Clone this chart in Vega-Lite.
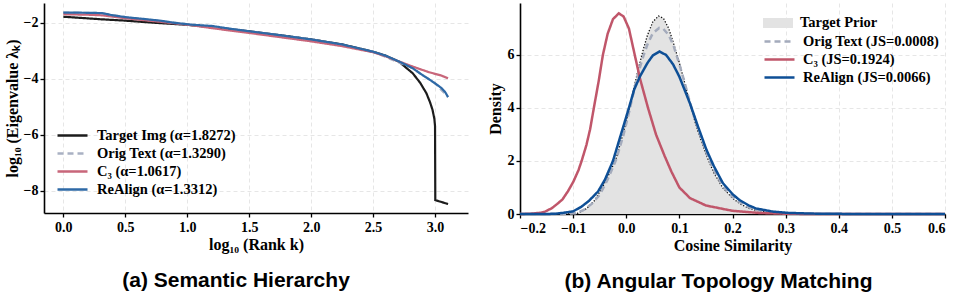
{
  "$schema": "https://vega.github.io/schema/vega-lite/v6.json",
  "padding": {"left": 4, "top": 3, "right": 0, "bottom": 0},
  "background": "white",
  "spacing": 19,
  "resolve": {
    "scale": {"color": "independent", "strokeDash": "independent", "fill": "independent", "stroke": "independent"},
    "legend": {"color": "independent", "strokeDash": "independent", "fill": "independent", "stroke": "independent"}
  },
  "config": {
    "view": {"stroke": null},
    "axis": {
      "domainColor": "black", "domainWidth": 1.6, "tickColor": "black", "tickWidth": 1.3, "tickSize": 4,
      "labelFont": "Liberation Serif", "labelFontWeight": "bold", "labelFontSize": 14, "labelColor": "black", "labelPadding": 2,
      "titleFont": "Liberation Serif", "titleFontWeight": "bold", "titleFontSize": 16, "titleColor": "black",
      "gridColor": "#e0e0e0", "gridDash": [4, 3], "gridWidth": 0.8
    },
    "legend": {
      "labelFont": "Liberation Serif", "labelFontWeight": "bold", "labelFontSize": 14.5, "labelColor": "black",
      "symbolSize": 400, "symbolStrokeWidth": 2.5, "labelOffset": 12, "rowPadding": 0
    },
    "title": {"font": "Liberation Sans", "fontSize": 21, "fontWeight": "bold", "color": "black", "anchor": "middle"}
  },
  "datasets": {
    "left": [
      {"x": 0, "y": -1.79, "s": "Target Img (α=1.8272)"},
      {"x": 0.1, "y": -1.82, "s": "Target Img (α=1.8272)"},
      {"x": 0.2, "y": -1.85, "s": "Target Img (α=1.8272)"},
      {"x": 0.3, "y": -1.88, "s": "Target Img (α=1.8272)"},
      {"x": 0.5, "y": -1.93, "s": "Target Img (α=1.8272)"},
      {"x": 0.75, "y": -2.01, "s": "Target Img (α=1.8272)"},
      {"x": 1.0, "y": -2.08, "s": "Target Img (α=1.8272)"},
      {"x": 1.25, "y": -2.19, "s": "Target Img (α=1.8272)"},
      {"x": 1.5, "y": -2.31, "s": "Target Img (α=1.8272)"},
      {"x": 1.75, "y": -2.45, "s": "Target Img (α=1.8272)"},
      {"x": 2.0, "y": -2.6, "s": "Target Img (α=1.8272)"},
      {"x": 2.25, "y": -2.78, "s": "Target Img (α=1.8272)"},
      {"x": 2.5, "y": -3.04, "s": "Target Img (α=1.8272)"},
      {"x": 2.6, "y": -3.18, "s": "Target Img (α=1.8272)"},
      {"x": 2.71, "y": -3.4, "s": "Target Img (α=1.8272)"},
      {"x": 2.82, "y": -3.81, "s": "Target Img (α=1.8272)"},
      {"x": 2.88, "y": -4.15, "s": "Target Img (α=1.8272)"},
      {"x": 2.93, "y": -4.52, "s": "Target Img (α=1.8272)"},
      {"x": 2.96, "y": -4.85, "s": "Target Img (α=1.8272)"},
      {"x": 2.98, "y": -5.12, "s": "Target Img (α=1.8272)"},
      {"x": 2.995, "y": -5.45, "s": "Target Img (α=1.8272)"},
      {"x": 3.0, "y": -5.7, "s": "Target Img (α=1.8272)"},
      {"x": 3.002, "y": -8.34, "s": "Target Img (α=1.8272)"},
      {"x": 3.105, "y": -8.48, "s": "Target Img (α=1.8272)"},
      {"x": 0, "y": -1.64, "s": "Orig Text (α=1.3290)"},
      {"x": 0.31, "y": -1.66, "s": "Orig Text (α=1.3290)"},
      {"x": 0.51, "y": -1.81, "s": "Orig Text (α=1.3290)"},
      {"x": 1.05, "y": -2.08, "s": "Orig Text (α=1.3290)"},
      {"x": 1.5, "y": -2.31, "s": "Orig Text (α=1.3290)"},
      {"x": 2.0, "y": -2.6, "s": "Orig Text (α=1.3290)"},
      {"x": 2.5, "y": -3.04, "s": "Orig Text (α=1.3290)"},
      {"x": 2.82, "y": -3.63, "s": "Orig Text (α=1.3290)"},
      {"x": 3.0, "y": -4.17, "s": "Orig Text (α=1.3290)"},
      {"x": 3.105, "y": -4.66, "s": "Orig Text (α=1.3290)"},
      {"x": 0, "y": -1.7, "s": "C₃ (α=1.0617)"},
      {"x": 0.1, "y": -1.71, "s": "C₃ (α=1.0617)"},
      {"x": 0.2, "y": -1.72, "s": "C₃ (α=1.0617)"},
      {"x": 0.31, "y": -1.74, "s": "C₃ (α=1.0617)"},
      {"x": 0.51, "y": -1.85, "s": "C₃ (α=1.0617)"},
      {"x": 0.78, "y": -1.97, "s": "C₃ (α=1.0617)"},
      {"x": 1.05, "y": -2.1, "s": "C₃ (α=1.0617)"},
      {"x": 1.2, "y": -2.2, "s": "C₃ (α=1.0617)"},
      {"x": 1.5, "y": -2.37, "s": "C₃ (α=1.0617)"},
      {"x": 1.75, "y": -2.52, "s": "C₃ (α=1.0617)"},
      {"x": 2.0, "y": -2.67, "s": "C₃ (α=1.0617)"},
      {"x": 2.25, "y": -2.84, "s": "C₃ (α=1.0617)"},
      {"x": 2.5, "y": -3.06, "s": "C₃ (α=1.0617)"},
      {"x": 2.6, "y": -3.2, "s": "C₃ (α=1.0617)"},
      {"x": 2.71, "y": -3.39, "s": "C₃ (α=1.0617)"},
      {"x": 2.82, "y": -3.57, "s": "C₃ (α=1.0617)"},
      {"x": 2.95, "y": -3.77, "s": "C₃ (α=1.0617)"},
      {"x": 3.05, "y": -3.89, "s": "C₃ (α=1.0617)"},
      {"x": 3.105, "y": -3.99, "s": "C₃ (α=1.0617)"},
      {"x": 0, "y": -1.64, "s": "ReAlign (α=1.3312)"},
      {"x": 0.1, "y": -1.645, "s": "ReAlign (α=1.3312)"},
      {"x": 0.2, "y": -1.65, "s": "ReAlign (α=1.3312)"},
      {"x": 0.31, "y": -1.66, "s": "ReAlign (α=1.3312)"},
      {"x": 0.4, "y": -1.74, "s": "ReAlign (α=1.3312)"},
      {"x": 0.51, "y": -1.81, "s": "ReAlign (α=1.3312)"},
      {"x": 0.65, "y": -1.87, "s": "ReAlign (α=1.3312)"},
      {"x": 0.78, "y": -1.93, "s": "ReAlign (α=1.3312)"},
      {"x": 0.9, "y": -2.01, "s": "ReAlign (α=1.3312)"},
      {"x": 1.05, "y": -2.08, "s": "ReAlign (α=1.3312)"},
      {"x": 1.2, "y": -2.12, "s": "ReAlign (α=1.3312)"},
      {"x": 1.35, "y": -2.22, "s": "ReAlign (α=1.3312)"},
      {"x": 1.5, "y": -2.31, "s": "ReAlign (α=1.3312)"},
      {"x": 1.75, "y": -2.45, "s": "ReAlign (α=1.3312)"},
      {"x": 2.0, "y": -2.6, "s": "ReAlign (α=1.3312)"},
      {"x": 2.25, "y": -2.78, "s": "ReAlign (α=1.3312)"},
      {"x": 2.5, "y": -3.04, "s": "ReAlign (α=1.3312)"},
      {"x": 2.6, "y": -3.18, "s": "ReAlign (α=1.3312)"},
      {"x": 2.71, "y": -3.39, "s": "ReAlign (α=1.3312)"},
      {"x": 2.82, "y": -3.63, "s": "ReAlign (α=1.3312)"},
      {"x": 2.88, "y": -3.82, "s": "ReAlign (α=1.3312)"},
      {"x": 2.95, "y": -4.02, "s": "ReAlign (α=1.3312)"},
      {"x": 3.0, "y": -4.17, "s": "ReAlign (α=1.3312)"},
      {"x": 3.05, "y": -4.33, "s": "ReAlign (α=1.3312)"},
      {"x": 3.08, "y": -4.47, "s": "ReAlign (α=1.3312)"},
      {"x": 3.105, "y": -4.66, "s": "ReAlign (α=1.3312)"}
    ],
    "prior": [
      {"x": -0.2, "y": 0, "s": "Target Prior"}, {"x": -0.15, "y": 0, "s": "Target Prior"}, {"x": -0.11, "y": 0, "s": "Target Prior"}, {"x": -0.091, "y": 0.03, "s": "Target Prior"},
      {"x": -0.075, "y": 0.2, "s": "Target Prior"}, {"x": -0.06, "y": 0.5, "s": "Target Prior"}, {"x": -0.045, "y": 1.0, "s": "Target Prior"}, {"x": -0.03, "y": 1.6, "s": "Target Prior"},
      {"x": -0.019, "y": 2.1, "s": "Target Prior"}, {"x": -0.005, "y": 3.1, "s": "Target Prior"}, {"x": 0.006, "y": 4.0, "s": "Target Prior"}, {"x": 0.015, "y": 4.8, "s": "Target Prior"},
      {"x": 0.023, "y": 5.5, "s": "Target Prior"}, {"x": 0.032, "y": 6.2, "s": "Target Prior"}, {"x": 0.04, "y": 6.75, "s": "Target Prior"}, {"x": 0.05, "y": 7.25, "s": "Target Prior"},
      {"x": 0.0607, "y": 7.47, "s": "Target Prior"}, {"x": 0.07, "y": 7.38, "s": "Target Prior"}, {"x": 0.08, "y": 7.0, "s": "Target Prior"}, {"x": 0.089, "y": 6.44, "s": "Target Prior"},
      {"x": 0.1, "y": 5.7, "s": "Target Prior"}, {"x": 0.11, "y": 4.95, "s": "Target Prior"}, {"x": 0.12, "y": 4.15, "s": "Target Prior"}, {"x": 0.135, "y": 3.1, "s": "Target Prior"},
      {"x": 0.151, "y": 2.2, "s": "Target Prior"}, {"x": 0.165, "y": 1.55, "s": "Target Prior"}, {"x": 0.182, "y": 0.98, "s": "Target Prior"}, {"x": 0.2, "y": 0.6, "s": "Target Prior"},
      {"x": 0.213, "y": 0.4, "s": "Target Prior"}, {"x": 0.23, "y": 0.22, "s": "Target Prior"}, {"x": 0.244, "y": 0.14, "s": "Target Prior"}, {"x": 0.27, "y": 0.06, "s": "Target Prior"},
      {"x": 0.3, "y": 0.02, "s": "Target Prior"}, {"x": 0.35, "y": 0, "s": "Target Prior"}, {"x": 0.6, "y": 0, "s": "Target Prior"}
    ],
    "right": [
      {"x": -0.2, "y": 0, "s": "Orig Text (JS=0.0008)"},
      {"x": -0.12, "y": 0, "s": "Orig Text (JS=0.0008)"},
      {"x": -0.095, "y": 0.03, "s": "Orig Text (JS=0.0008)"},
      {"x": -0.08, "y": 0.15, "s": "Orig Text (JS=0.0008)"},
      {"x": -0.065, "y": 0.38, "s": "Orig Text (JS=0.0008)"},
      {"x": -0.05, "y": 0.72, "s": "Orig Text (JS=0.0008)"},
      {"x": -0.035, "y": 1.3, "s": "Orig Text (JS=0.0008)"},
      {"x": -0.019, "y": 2.05, "s": "Orig Text (JS=0.0008)"},
      {"x": -0.005, "y": 3.0, "s": "Orig Text (JS=0.0008)"},
      {"x": 0.006, "y": 3.9, "s": "Orig Text (JS=0.0008)"},
      {"x": 0.015, "y": 4.7, "s": "Orig Text (JS=0.0008)"},
      {"x": 0.023, "y": 5.35, "s": "Orig Text (JS=0.0008)"},
      {"x": 0.032, "y": 5.95, "s": "Orig Text (JS=0.0008)"},
      {"x": 0.04, "y": 6.4, "s": "Orig Text (JS=0.0008)"},
      {"x": 0.05, "y": 6.82, "s": "Orig Text (JS=0.0008)"},
      {"x": 0.062, "y": 7.02, "s": "Orig Text (JS=0.0008)"},
      {"x": 0.07, "y": 6.98, "s": "Orig Text (JS=0.0008)"},
      {"x": 0.08, "y": 6.75, "s": "Orig Text (JS=0.0008)"},
      {"x": 0.089, "y": 6.35, "s": "Orig Text (JS=0.0008)"},
      {"x": 0.1, "y": 5.65, "s": "Orig Text (JS=0.0008)"},
      {"x": 0.11, "y": 4.95, "s": "Orig Text (JS=0.0008)"},
      {"x": 0.12, "y": 4.2, "s": "Orig Text (JS=0.0008)"},
      {"x": 0.135, "y": 3.2, "s": "Orig Text (JS=0.0008)"},
      {"x": 0.151, "y": 2.3, "s": "Orig Text (JS=0.0008)"},
      {"x": 0.165, "y": 1.65, "s": "Orig Text (JS=0.0008)"},
      {"x": 0.182, "y": 1.05, "s": "Orig Text (JS=0.0008)"},
      {"x": 0.2, "y": 0.65, "s": "Orig Text (JS=0.0008)"},
      {"x": 0.213, "y": 0.45, "s": "Orig Text (JS=0.0008)"},
      {"x": 0.23, "y": 0.26, "s": "Orig Text (JS=0.0008)"},
      {"x": 0.244, "y": 0.16, "s": "Orig Text (JS=0.0008)"},
      {"x": 0.27, "y": 0.07, "s": "Orig Text (JS=0.0008)"},
      {"x": 0.3, "y": 0.025, "s": "Orig Text (JS=0.0008)"},
      {"x": 0.35, "y": 0.005, "s": "Orig Text (JS=0.0008)"},
      {"x": 0.6, "y": 0, "s": "Orig Text (JS=0.0008)"},
      {"x": -0.2, "y": 0, "s": "C₃ (JS=0.1924)"},
      {"x": -0.18, "y": 0.01, "s": "C₃ (JS=0.1924)"},
      {"x": -0.16, "y": 0.05, "s": "C₃ (JS=0.1924)"},
      {"x": -0.153, "y": 0.09, "s": "C₃ (JS=0.1924)"},
      {"x": -0.14, "y": 0.22, "s": "C₃ (JS=0.1924)"},
      {"x": -0.13, "y": 0.38, "s": "C₃ (JS=0.1924)"},
      {"x": -0.12, "y": 0.55, "s": "C₃ (JS=0.1924)"},
      {"x": -0.11, "y": 0.85, "s": "C₃ (JS=0.1924)"},
      {"x": -0.1, "y": 1.2, "s": "C₃ (JS=0.1924)"},
      {"x": -0.09, "y": 1.65, "s": "C₃ (JS=0.1924)"},
      {"x": -0.084, "y": 2.0, "s": "C₃ (JS=0.1924)"},
      {"x": -0.075, "y": 2.6, "s": "C₃ (JS=0.1924)"},
      {"x": -0.068, "y": 3.2, "s": "C₃ (JS=0.1924)"},
      {"x": -0.061, "y": 4.0, "s": "C₃ (JS=0.1924)"},
      {"x": -0.052, "y": 5.0, "s": "C₃ (JS=0.1924)"},
      {"x": -0.044, "y": 6.0, "s": "C₃ (JS=0.1924)"},
      {"x": -0.035, "y": 6.8, "s": "C₃ (JS=0.1924)"},
      {"x": -0.025, "y": 7.35, "s": "C₃ (JS=0.1924)"},
      {"x": -0.014, "y": 7.57, "s": "C₃ (JS=0.1924)"},
      {"x": -0.005, "y": 7.45, "s": "C₃ (JS=0.1924)"},
      {"x": 0.005, "y": 7.0, "s": "C₃ (JS=0.1924)"},
      {"x": 0.016, "y": 6.0, "s": "C₃ (JS=0.1924)"},
      {"x": 0.026, "y": 5.1, "s": "C₃ (JS=0.1924)"},
      {"x": 0.041, "y": 4.0, "s": "C₃ (JS=0.1924)"},
      {"x": 0.056, "y": 3.0, "s": "C₃ (JS=0.1924)"},
      {"x": 0.072, "y": 2.2, "s": "C₃ (JS=0.1924)"},
      {"x": 0.085, "y": 1.6, "s": "C₃ (JS=0.1924)"},
      {"x": 0.1, "y": 1.0, "s": "C₃ (JS=0.1924)"},
      {"x": 0.12, "y": 0.6, "s": "C₃ (JS=0.1924)"},
      {"x": 0.15, "y": 0.32, "s": "C₃ (JS=0.1924)"},
      {"x": 0.2, "y": 0.12, "s": "C₃ (JS=0.1924)"},
      {"x": 0.25, "y": 0.04, "s": "C₃ (JS=0.1924)"},
      {"x": 0.3, "y": 0.01, "s": "C₃ (JS=0.1924)"},
      {"x": 0.35, "y": 0, "s": "C₃ (JS=0.1924)"},
      {"x": 0.6, "y": 0, "s": "C₃ (JS=0.1924)"},
      {"x": -0.2, "y": 0, "s": "ReAlign (JS=0.0066)"},
      {"x": -0.15, "y": 0, "s": "ReAlign (JS=0.0066)"},
      {"x": -0.134, "y": 0.01, "s": "ReAlign (JS=0.0066)"},
      {"x": -0.12, "y": 0.04, "s": "ReAlign (JS=0.0066)"},
      {"x": -0.1, "y": 0.1, "s": "ReAlign (JS=0.0066)"},
      {"x": -0.084, "y": 0.28, "s": "ReAlign (JS=0.0066)"},
      {"x": -0.07, "y": 0.5, "s": "ReAlign (JS=0.0066)"},
      {"x": -0.053, "y": 0.85, "s": "ReAlign (JS=0.0066)"},
      {"x": -0.04, "y": 1.3, "s": "ReAlign (JS=0.0066)"},
      {"x": -0.025, "y": 2.0, "s": "ReAlign (JS=0.0066)"},
      {"x": -0.01, "y": 3.0, "s": "ReAlign (JS=0.0066)"},
      {"x": 0.005, "y": 4.0, "s": "ReAlign (JS=0.0066)"},
      {"x": 0.015, "y": 4.7, "s": "ReAlign (JS=0.0066)"},
      {"x": 0.026, "y": 5.2, "s": "ReAlign (JS=0.0066)"},
      {"x": 0.04, "y": 5.7, "s": "ReAlign (JS=0.0066)"},
      {"x": 0.05, "y": 5.98, "s": "ReAlign (JS=0.0066)"},
      {"x": 0.0625, "y": 6.13, "s": "ReAlign (JS=0.0066)"},
      {"x": 0.075, "y": 6.0, "s": "ReAlign (JS=0.0066)"},
      {"x": 0.088, "y": 5.65, "s": "ReAlign (JS=0.0066)"},
      {"x": 0.1, "y": 5.18, "s": "ReAlign (JS=0.0066)"},
      {"x": 0.12, "y": 4.17, "s": "ReAlign (JS=0.0066)"},
      {"x": 0.135, "y": 3.3, "s": "ReAlign (JS=0.0066)"},
      {"x": 0.151, "y": 2.42, "s": "ReAlign (JS=0.0066)"},
      {"x": 0.165, "y": 1.8, "s": "ReAlign (JS=0.0066)"},
      {"x": 0.182, "y": 1.16, "s": "ReAlign (JS=0.0066)"},
      {"x": 0.2, "y": 0.75, "s": "ReAlign (JS=0.0066)"},
      {"x": 0.213, "y": 0.53, "s": "ReAlign (JS=0.0066)"},
      {"x": 0.23, "y": 0.33, "s": "ReAlign (JS=0.0066)"},
      {"x": 0.244, "y": 0.21, "s": "ReAlign (JS=0.0066)"},
      {"x": 0.276, "y": 0.09, "s": "ReAlign (JS=0.0066)"},
      {"x": 0.307, "y": 0.04, "s": "ReAlign (JS=0.0066)"},
      {"x": 0.35, "y": 0.015, "s": "ReAlign (JS=0.0066)"},
      {"x": 0.4, "y": 0.005, "s": "ReAlign (JS=0.0066)"},
      {"x": 0.5, "y": 0, "s": "ReAlign (JS=0.0066)"},
      {"x": 0.6, "y": 0, "s": "ReAlign (JS=0.0066)"}
    ]
  },
  "hconcat": [
    {
      "width": 424,
      "height": 210,
      "title": {"text": "(a) Semantic Hierarchy", "orient": "bottom", "offset": 18, "frame": "bounds"},
      "data": {"name": "left"},
      "mark": {"type": "line", "strokeWidth": 2.2, "clip": true},
      "encoding": {
        "x": {"field": "x", "type": "quantitative",
          "scale": {"domain": [-0.156, 3.266], "nice": false, "zero": false},
          "axis": {"values": [0, 0.5, 1, 1.5, 2, 2.5, 3], "format": ".1f", "title": "log₁₀ (Rank k)", "titlePadding": 2, "labelPadding": 3}},
        "y": {"field": "y", "type": "quantitative",
          "scale": {"domain": [-8.8, -1.3], "nice": false, "zero": false},
          "axis": {"values": [-8, -6, -4, -2], "labelExpr": "replace(format(datum.value, 'd'), '-', '−')", "title": "log₁₀ (Eigenvalue λₖ)", "titlePadding": 3}},
        "color": {"field": "s", "type": "nominal",
          "scale": {"domain": ["Target Img (α=1.8272)", "Orig Text (α=1.3290)", "C₃ (α=1.0617)", "ReAlign (α=1.3312)"],
                    "range": ["#1c1c1c", "#a9b1c3", "#c8667a", "#2e69a6"]},
          "legend": {"orient": "none", "legendX": 17, "legendY": 121, "title": null, "symbolType": "M-1.5,0H1.5", "labelOffset": 13}},
        "strokeDash": {"field": "s", "type": "nominal",
          "scale": {"domain": ["Target Img (α=1.8272)", "Orig Text (α=1.3290)", "C₃ (α=1.0617)", "ReAlign (α=1.3312)"],
                    "range": [[1, 0], [6, 4], [1, 0], [1, 0]]},
          "legend": {"orient": "none", "legendX": 17, "legendY": 121, "title": null, "symbolType": "M-1.5,0H1.5", "labelOffset": 13}},
        "order": {"field": "x", "type": "quantitative"}
      }
    },
    {
      "width": 425,
      "height": 211,
      "title": {"text": "(b) Angular Topology Matching", "orient": "bottom", "offset": 18, "frame": "bounds"},
      "layer": [
        {
          "data": {"name": "prior"},
          "mark": {"type": "area", "opacity": 1},
          "encoding": {
            "x": {"field": "x", "type": "quantitative"},
            "y": {"field": "y", "type": "quantitative"},
            "fill": {"field": "s", "type": "nominal",
              "scale": {"domain": ["Target Prior"], "range": ["#e3e3e3"]},
              "legend": {"orient": "none", "legendX": 248, "legendY": 10, "title": null, "symbolType": "M-1.5,-0.5H1.5V0.5H-1.5Z", "symbolStrokeWidth": 0}}
          }
        },
        {
          "data": {"name": "prior"},
          "mark": {"type": "line", "color": "#111111", "strokeWidth": 1.3, "strokeDash": [1.3, 1.7]},
          "encoding": {
            "x": {"field": "x", "type": "quantitative"},
            "y": {"field": "y", "type": "quantitative"}
          }
        },
        {
          "data": {"name": "right"},
          "mark": {"type": "line", "strokeWidth": 2.5},
          "encoding": {
            "x": {"field": "x", "type": "quantitative"},
            "y": {"field": "y", "type": "quantitative"},
            "stroke": {"field": "s", "type": "nominal",
              "scale": {"domain": ["Orig Text (JS=0.0008)", "C₃ (JS=0.1924)", "ReAlign (JS=0.0066)"], "range": ["#a4abbc", "#c0566a", "#0e4f96"]},
              "legend": {"orient": "none", "legendX": 248, "legendY": 27, "title": null, "symbolType": "M-1.5,0H1.5"}},
            "strokeDash": {"field": "s", "type": "nominal",
              "scale": {"domain": ["Orig Text (JS=0.0008)", "C₃ (JS=0.1924)", "ReAlign (JS=0.0066)"], "range": [[6, 4], [1, 0], [1, 0]]},
              "legend": {"orient": "none", "legendX": 248, "legendY": 27, "title": null, "symbolType": "M-1.5,0H1.5"}},
            "order": {"field": "x", "type": "quantitative"}
          }
        }
      ],
      "encoding": {
        "x": {"field": "x", "type": "quantitative",
          "scale": {"domain": [-0.2, 0.6], "nice": false, "zero": false},
          "axis": {"values": [-0.2, -0.1, 0, 0.1, 0.2, 0.3, 0.4, 0.5, 0.6], "labelExpr": "replace(format(datum.value, '.1f'), '-', '−')", "title": "Cosine Similarity", "titlePadding": 2, "labelPadding": 3}},
        "y": {"field": "y", "type": "quantitative",
          "scale": {"domain": [0, 7.96], "nice": false, "zero": false},
          "axis": {"values": [0, 2, 4, 6], "format": "d", "title": "Density", "titlePadding": 4}}
      }
    }
  ]
}
